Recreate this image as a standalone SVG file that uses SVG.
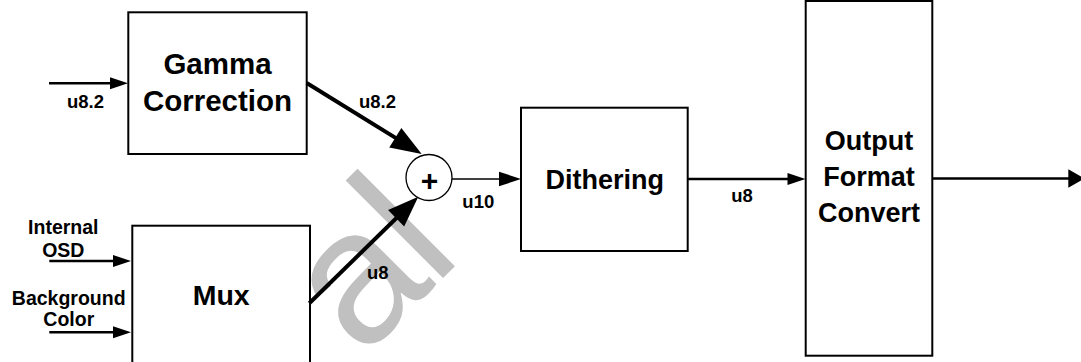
<svg xmlns="http://www.w3.org/2000/svg" width="1081" height="362" viewBox="0 0 1081 362">
<style>
  .box { fill: #ffffff; stroke: #000000; stroke-width: 2; }
  .t { font-family: "Liberation Sans", Arial, sans-serif; font-weight: bold; fill: #000000; text-anchor: middle; }
  .big { font-size: 27px; }
  .lbl { font-size: 19.5px; }
  .ulbl { font-size: 18.5px; }
  .thick { stroke: #000; stroke-width: 4; fill: none; }
  .med { stroke: #000; stroke-width: 2.6; fill: none; }
  .thin { stroke: #000; stroke-width: 1.3; fill: none; }
  .wm { font-family: "Liberation Sans", Arial, sans-serif; font-size: 190px; fill: #c0c0c0; }
</style>
<defs>
  <marker id="ahThick" markerUnits="userSpaceOnUse" markerWidth="31" markerHeight="23" refX="15.5" refY="11.5" orient="auto" overflow="visible">
    <path d="M0,0 L31,11.5 L0,23 z" fill="#000"/>
  </marker>
  <marker id="ahSmall" markerUnits="userSpaceOnUse" markerWidth="18" markerHeight="12" refX="9" refY="6" orient="auto" overflow="visible">
    <path d="M0,0 L18,6 L0,12 z" fill="#000"/>
  </marker>
  <marker id="ahMid" markerUnits="userSpaceOnUse" markerWidth="22" markerHeight="14.6" refX="11" refY="7.3" orient="auto" overflow="visible">
    <path d="M0,0 L22,7.3 L0,14.6 z" fill="#000"/>
  </marker>
  <marker id="ahOut" markerUnits="userSpaceOnUse" markerWidth="16" markerHeight="18.4" refX="8" refY="9.2" orient="auto" overflow="visible">
    <path d="M0,0 L16,9.2 L0,18.4 z" fill="#000"/>
  </marker>
</defs>
<rect x="0" y="0" width="1081" height="362" fill="#ffffff"/>

<g id="watermark">
  <text class="wm" transform="translate(362,359) rotate(-45)" x="0" y="0">a<tspan dx="-4">l</tspan></text>
</g>

<g id="gamma">
  <rect class="box" x="128.3" y="12.3" width="178.4" height="141.7"/>
  <text class="t" style="font-size:29.5px" x="217.5" y="74">Gamma</text>
  <text class="t" style="font-size:29.5px" x="217.5" y="110.7">Correction</text>
</g>

<g id="mux">
  <rect class="box" x="132.3" y="225.7" width="177.7" height="150"/>
  <text class="t" style="font-size:28.5px" x="221.2" y="305.3">Mux</text>
</g>

<g id="sum">
  <circle cx="429" cy="177.5" r="23" fill="#ffffff" stroke="#000" stroke-width="1.3"/>
  <text class="t" style="font-size:30px" x="429.5" y="190.7">+</text>
</g>

<g id="dithering">
  <rect class="box" x="521" y="107.7" width="166.7" height="143.3"/>
  <text class="t big" x="604.7" y="189.3">Dithering</text>
</g>

<g id="output">
  <rect class="box" x="805.7" y="1" width="126.6" height="354.7"/>
  <text class="t big" x="869" y="150">Output</text>
  <text class="t big" x="869" y="186.3">Format</text>
  <text class="t big" x="869" y="222.3">Convert</text>
</g>

<g id="connectors">
  <line class="med" x1="49" y1="83.3" x2="119" y2="83.3" marker-end="url(#ahSmall)"/>
  <line class="thick" x1="306.7" y1="83" x2="408.5" y2="145.9" marker-end="url(#ahThick)"/>
  <line class="thick" x1="309.3" y1="303.3" x2="407.2" y2="207.5" marker-end="url(#ahThick)"/>
  <line class="thin" x1="452" y1="179" x2="510" y2="179" marker-end="url(#ahMid)"/>
  <line class="med" x1="49.3" y1="261" x2="122" y2="261" marker-end="url(#ahSmall)"/>
  <line class="med" x1="49.3" y1="332.3" x2="122" y2="332.3" marker-end="url(#ahSmall)"/>
  <line class="med" x1="688" y1="179" x2="796.5" y2="179" marker-end="url(#ahSmall)"/>
  <line class="med" x1="932.3" y1="178.5" x2="1076.3" y2="178.5" marker-end="url(#ahOut)"/>
</g>

<g id="labels">
  <text class="t ulbl" x="85.5" y="108">u8.2</text>
  <text class="t ulbl" x="377.5" y="108.3">u8.2</text>
  <text class="t ulbl" x="478.3" y="208.3">u10</text>
  <text class="t ulbl" x="742" y="201.7">u8</text>
  <text class="t ulbl" x="377.8" y="279.3">u8</text>
  <text class="t lbl" x="63.3" y="234">Internal</text>
  <text class="t lbl" x="63.3" y="256.5">OSD</text>
  <text class="t lbl" x="68.7" y="304.5">Background</text>
  <text class="t lbl" x="68.8" y="326.3">Color</text>
</g>
</svg>
